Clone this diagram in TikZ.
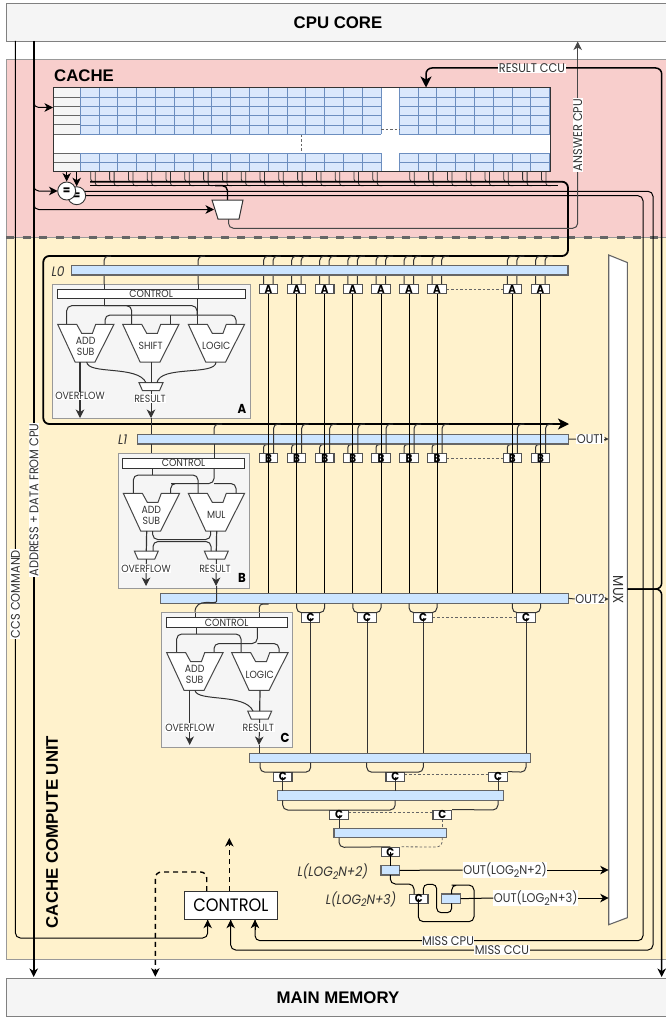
\documentclass[tikz,border=0pt]{standalone}
\usepackage{fontspec}
\setmainfont{Liberation Sans}
\newfontfamily\lab[FakeStretch=0.9]{Poppins}
\usetikzlibrary{arrows.meta}
\definecolor{pinkbg}{HTML}{F8CECC}
\definecolor{yellowbg}{HTML}{FFF2CC}
\definecolor{lightgr}{HTML}{F5F5F5}
\definecolor{barblue}{HTML}{CCE5FF}
\definecolor{cellblue}{HTML}{DAE8FC}
\definecolor{celledge}{HTML}{6C8EBF}
\definecolor{dk}{HTML}{333333}
\definecolor{md}{HTML}{666666}
\newcommand{\rectn}[7]{\node[#6,inner sep=0pt,outer sep=0pt,minimum width={(#4)-(#2)},minimum height={(#5)-(#3)}] (#1) at ({((#2)+(#4))/2},{((#3)+(#5))/2}) {#7};}
\newcommand{\alu}[4]{%
 \draw[alupoly] (#2,#3) -- ++(19,0) -- ++(5,9) -- ++(10.7,0) -- ++(3.3,-9) -- ++(18.3,0) -- ++(-19,37.7) -- ++(-19.9,0) -- cycle;
 \node[labt,align=center,inner sep=0pt] (#1) at ({#2+28},{#3+22}) {#4};}
\newcommand{\muxs}[4]{%
 \draw[alupoly] ({#2-12},#3) -- ({#2+12},#3) -- ({#2+8.5},{#3+8}) -- ({#2-8.5},{#3+8}) -- cycle;
 \coordinate (#1t) at (#2,#3); \coordinate (#1b) at (#2,{#3+8});}
\newcommand{\sn}{\raisebox{-2.5pt}{\fontsize{10.5}{10.5}\selectfont 2}}
\tikzset{
 x=1pt,y=-1pt,
 wire/.style={draw=dk,line width=1pt,rounded corners=5pt},
 gwire/.style={draw=md!80!black,line width=1.2pt,rounded corners=5pt},
 thickw/.style={draw=black,line width=1.8pt,rounded corners=6pt},
 arr/.style={-{Stealth[length=8.5pt,width=8.5pt,inset=2.5pt]}},
 sarr/.style={-{Stealth[length=4pt,width=4pt,inset=1pt]}},
 bigarr/.style={-{Stealth[length=11pt,width=11pt,inset=3pt]}},
 dots/.style={draw=md,line width=0.8pt,dash pattern=on 2.5pt off 2pt},
 barn/.style={draw=md,line width=1.1pt,fill=barblue},
 panel/.style={draw=gray!80,line width=1pt,fill=lightgr},
 ctrl/.style={draw=dk,line width=0.9pt,fill=white},
 alupoly/.style={draw=md!70!black,line width=1pt,fill=white,line join=miter},
 bx/.style={draw=md!80!black,line width=1.1pt,fill=white,inner sep=0pt,minimum width=18.5pt,minimum height=9.3pt},
 bxl/.style={font=\lab\bfseries\fontsize{11.5}{11.5}\selectfont,inner sep=0pt,text=black},
 panl/.style={font=\lab\bfseries\fontsize{13}{13}\selectfont,inner sep=0pt,text=black},
 labt/.style={font=\lab\fontsize{10.4}{11.4}\selectfont,text=dk},
 wl/.style={labt,fill=white,inner sep=0.5pt},
 biglab/.style={font=\lab\fontsize{12.6}{13}\selectfont,text=dk,fill=white,inner sep=0.5pt},
 il/.style={font=\lab\itshape\fontsize{13.6}{14}\selectfont,text=dk},
 title/.style={font=\bfseries\fontsize{16.8}{17}\selectfont,text=black},
 dashw/.style={draw=black,line width=1.4pt,dash pattern=on 5pt off 4pt,rounded corners=6pt},
}
\begin{document}
\begin{tikzpicture}
\useasboundingbox (0,0) rectangle (665,1019);
% ---- regions
\rectn{cachereg}{6}{59.5}{667}{237}{fill=pinkbg,draw=gray!80,line width=0.8pt}{}
\rectn{ccureg}{6}{237}{667}{959.5}{fill=yellowbg,draw=gray!80,line width=0.8pt}{}
\draw[draw=md,line width=2.2pt,dash pattern=on 8pt off 8.5pt] (6,237.5) -- (665,237.5);
\rectn{cpu}{6}{3}{667}{41}{fill=lightgr,draw=gray,line width=0.9pt}{}
\rectn{mem}{6}{978}{667}{1016}{fill=lightgr,draw=gray,line width=0.9pt}{}
\node[title] (cputxt) at (338,23) {CPU CORE};
\node[title] (memtxt) at (338,998) {MAIN MEMORY};
\node[title] (cachetxt) at (84,76) {CACHE};
\node[title,rotate=90] (ccutxt) at (52,832) {CACHE COMPUTE UNIT};
% ---- cache array
\rectn{cache}{53}{87.7}{550}{171.7}{fill=white}{}
\rectn{tag}{53}{87.7}{80.3}{134.3}{fill=lightgr}{}
\rectn{tagb}{53}{153.3}{80.3}{171.7}{fill=lightgr}{}
\foreach \y in {97.3,106.7,115.7,125} \draw[md,line width=1pt] (53,\y) -- (80.3,\y);
\draw[md,line width=1pt] (53,134.3) -- (80.3,134.3) (53,153.3) -- (80.3,153.3) (53,162.3) -- (80.3,162.3);
\foreach \xa/\xb/\n in {80.3/381/16,399.3/550/8}{
  \fill[cellblue] (\xa,87.7) rectangle (\xb,134.3);
  \fill[cellblue] (\xa,153.3) rectangle (\xb,171.7);
  \foreach \y in {97.3,106.7,115.7,125} \draw[celledge,line width=0.9pt] (\xa,\y) -- (\xb,\y);
  \draw[celledge,line width=0.9pt] (\xa,162.3) -- (\xb,162.3) (\xa,153.3) -- (\xb,153.3) (\xa,134.3) -- (\xb,134.3);
  \foreach \k in {0,...,\n}{
    \pgfmathsetmacro{\cx}{\xa+\k*18.8}
    \draw[celledge,line width=0.9pt] (\cx,87.7) -- (\cx,134.3) (\cx,153.3) -- (\cx,171.7);
  }
}
\draw[dk,line width=1pt] (cache.north west) rectangle (cache.south east);
\draw[dots] (381,129.5) -- (399.3,129.5);
\draw[dots] (301.5,135) -- (301.5,153);
% taps under the cache
\foreach \k in {0,...,15}{
  \pgfmathsetmacro{\cx}{80.3+\k*18.8}
  \draw[wire,line width=0.8pt,rounded corners=2.5pt] (\cx+10.5,172) -- (\cx+10.5,181.7) -- (\cx+15,181.7);
  \draw[wire,line width=0.8pt,rounded corners=2.5pt] (\cx+15,172) -- (\cx+15,185.7) -- (\cx+20,185.7);
}
\foreach \k in {0,...,7}{
  \pgfmathsetmacro{\cx}{399.3+\k*18.8}
  \draw[wire,line width=0.8pt,rounded corners=2.5pt] (\cx+10.5,172) -- (\cx+10.5,181.7) -- (\cx+15,181.7);
  \draw[wire,line width=0.8pt,rounded corners=2.5pt] (\cx+15,172) -- (\cx+15,185.7) -- (\cx+20,185.7);
}
% ---- command + address lines
\draw[wire,draw=black] (15.4,41) -- (15.4,938) -- (207.7,938) -- (207.7,919.5);
\draw[thickw] (33.7,41) -- (33.7,970);
\draw[thickw,arr] (33.7,960) -- (33.7,977);
\draw[wire,arr,draw=black] (33.7,100) -- (33.7,107.5) -- (53,107.5);
\draw[wire,arr,draw=black] (33.7,184) -- (33.7,191) -- (57.5,191);
\draw[wire,arr,draw=black] (33.7,202) -- (33.7,209.5) -- (214,209.5);
% ---- comparators and answer mux
\draw[wire,draw=black] (76.7,195.7) -- (643,195.7) -- (643,940.7) -- (255,940.7) -- (255,920);
\draw[wire,arr,draw=black] (255,930) -- (255,919.7);
\draw[wire,draw=black] (66.7,191.3) -- (653,191.3) -- (653,950) -- (230.7,950) -- (230.7,920);
\draw[wire,arr,draw=black] (230.7,930) -- (230.7,919.7);
\draw[wire,arr,draw=black] (207.7,930) -- (207.7,919.7);
\draw[wire,draw=black] (90,185.7) -- (558,185.7);
\draw[draw=black,line width=1.8pt,rounded corners=6pt] (90,181.7) -- (568,181.7) -- (568,256) -- (43.3,256) -- (43.3,424) -- (560,424);
\draw[black,line width=1.8pt,bigarr] (548,424) -- (569,424);
\draw[wire,draw=black,line width=1.4pt] (215,185.7) -- (227.5,185.7) -- (227.5,200);
\draw[alupoly,draw=dk] (212,200) -- (243,200) -- (239,219) -- (218,219) -- cycle;
\coordinate (ansout) at (228.5,219);
\draw[wire,draw=md!70!black,line width=1pt] (ansout) -- (228.5,228.3) -- (577.7,228.3) -- (577.7,100);
\draw[draw=md!70!black,line width=1pt,arr] (577.7,100) -- (577.7,41.5);
\node[draw=dk,fill=white,circle,minimum size=18pt,inner sep=0pt,line width=0.9pt,font=\lab\bfseries\fontsize{12}{12}\selectfont] (eqb) at (76.7,195.7) {=};
\node[draw=dk,fill=white,circle,minimum size=18pt,inner sep=0pt,line width=0.9pt,font=\lab\bfseries\fontsize{12}{12}\selectfont] (eqa) at (66.7,191) {=};
\draw[draw=black,line width=0.9pt,arr] (66.7,172) -- (eqa.north);
\draw[draw=black,line width=0.9pt,arr] (76.7,172) -- (eqb.north);
% ---- mux
\draw[draw=md,line width=1.1pt,fill=white] (608.7,255) -- (627.3,262.5) -- (627.3,917.7) -- (608.7,924.7) -- cycle;
\node[font=\lab\fontsize{14.5}{15}\selectfont,text=dk,rotate=-90] (muxt) at (618,590) {MUX};
% mux output
\draw[black,line width=1.5pt,rounded corners=6pt,bigarr] (627.5,589) -- (661.7,589) -- (661.7,68) -- (426,68) -- (426,87.5);
\draw[black,line width=1.5pt,rounded corners=6pt] (627.5,589) -- (661.7,589) -- (661.7,970);
\draw[black,line width=1.4pt,arr] (661.7,960) -- (661.7,977);
\node[biglab] (rccu) at (532,68.5) {RESULT CCU};
\node[biglab,rotate=90] (acpu) at (577.7,135) {ANSWER CPU};
\node[biglab,rotate=90] (ccscmd) at (15.4,594) {CCS COMMAND};
\node[biglab,rotate=90] (addr) at (33.9,500) {ADDRESS + DATA FROM CPU};
\node[biglab] (mcpu) at (448,940.7) {MISS CPU};
\node[biglab] (mccu) at (502,950) {MISS CCU};
% ---- L0 stage
\foreach \i/\c in {1/268.5,2/296.6,3/324.7,4/352.8,5/381,6/409,7/437,8/512.3,9/540.5}{
  \draw[wire,rounded corners=4.5pt] (\c+3,256) -- (\c-5,256) -- (\c-5,285);
  \draw[wire,rounded corners=4.5pt] (\c+12,256) -- (\c+4.5,256) -- (\c+4.5,285);
}
\draw[wire,rounded corners=4.5pt] (111,256) -- (104,256) -- (104,284.3);
\draw[wire,rounded corners=4.5pt] (205,256) -- (198,256) -- (198,284.3);
\rectn{L0}{71.7}{265.7}{568}{275}{barn}{}
\node[il] (L0t) at (58,272) {L0};
\foreach \i/\c in {1/268.5,2/296.6,3/324.7,4/352.8,5/381,6/409,7/437,8/512.3,9/540.5}{
  \node[bx] (A\i) at (\c,289.2) {};
}
\draw[dots] (A7.east) -- (A8.west);
% ---- L1 stage
\foreach \i/\c in {1/268.5,2/296.6,3/324.7,4/352.8,5/381,6/409,7/437,8/512.3,9/540.5}{
  \draw[wire,rounded corners=3pt] (\c-5,453.5) -- (\c-5,444.5) -- (\c-1,444.5);
}
\rectn{L1}{137.3}{434.3}{568.5}{444}{barn}{}
\node[il] (L1t) at (122.7,440) {L1};
\foreach \i/\c in {1/268.5,2/296.6,3/324.7,4/352.8,5/381,6/409,7/437,8/512.3,9/540.5}{
  \node[bx] (B\i) at (\c,458) {};
  \draw[wire,rounded corners=4.5pt] (\c+12,424) -- (\c+5,424) -- (\c+5,453.5);
  \draw[wire,draw=black] (A\i.south) -- (\c,594);
  \node[bxl] (Al\i) at (A\i) {A};
  \node[bxl] (Bl\i) at (B\i) {B};
}
\draw[dots] (B7.east) -- (B8.west);
% L1 out
\node[biglab] (out1) at (590,439) {OUT1};
\draw[wire] (L1.east) -- (out1.west);
\draw[draw=dk,line width=0.9pt,sarr] (out1.east) -- (608.5,439);
% ---- panel A
\rectn{panelA}{52.7}{284.3}{250}{418.3}{panel}{}
\rectn{ctlA}{57.3}{289.3}{245}{298.7}{ctrl}{}
\node[labt] (ctlAt) at (ctlA) {CONTROL};
\draw[wire] (104,284.3) -- (104,289.3);
\draw[wire] (198,284.3) -- (198,289.3);
\draw[wire] (104,298.7) -- (104,305.7);
\draw[wire] (66.7,324.3) -- (66.7,305.7) -- (197,305.7) -- (197,315);
\draw[wire] (104,305.7) -- (131.7,305.7) -- (131.7,324.3);
\draw[wire] (197,298.7) -- (197,324.3);
\draw[wire] (105,324.3) -- (105,315) -- (236,315) -- (236,324.3);
\draw[wire] (170,315) -- (170,324.3);
\alu{a1}{57.7}{324.3}{ADD\\SUB}
\alu{a2}{122.7}{324.3}{SHIFT}
\alu{a3}{188.3}{324.3}{LOGIC}
\muxs{ma}{151}{382.7}{}
\draw[wire] (86.7,362) .. controls (88,375) and (138,365) .. (146,382.7);
\draw[wire] (216,362) .. controls (216,376) and (160,365) .. (157,382.7);
\draw[wire] (151,362) -- (mat);
\draw[gwire,arr,draw=dk] (80,362) -- (80,418);
\draw[wire,arr] (mab) -- (151,418);
\node[wl] (ovA) at (80,396) {OVERFLOW};
\node[wl] (reA) at (150,398.5) {RESULT};
\node[panl] (pa) at (242,409) {A};
\draw[wire] (151,418) -- (151,434.3);
% ---- panel B
\draw[wire,rounded corners=4.5pt] (222,424) -- (214,424) -- (214,434.3);
\rectn{panelB}{118.3}{453.3}{249.3}{588.3}{panel}{}
\rectn{ctlB}{122.7}{458.3}{244.3}{468.3}{ctrl}{}
\node[labt] (ctlBt) at (ctlB) {CONTROL};
\draw[wire] (151,444) -- (151,453.3);
\draw[wire] (214,444) -- (214,458.3);
\draw[wire] (152.7,468.3) -- (152.7,475);
\draw[wire] (133.3,493.3) -- (133.3,475) -- (198,475) -- (198,493.3);
\draw[wire] (214,468.3) -- (214,483.5) -- (176,483.5) -- (170.7,483.5) -- (170.7,493.3);
\draw[wire] (214,483.5) -- (236,483.5) -- (236,493.3);
\alu{b1}{123.3}{493.3}{ADD\\SUB}
\alu{b2}{188.3}{493.3}{MUL}
\muxs{mb1}{146.3}{551}{}
\muxs{mb2}{216.3}{551}{}
\draw[wire] (152.7,531) -- (152.7,539.5) -- (210.7,539.5) -- (210.7,531);
\draw[wire] (153,551) -- (153,541.5) -- (211,541.5) -- (211,551);
\draw[gwire,draw=dk] (146.7,531) -- (mb1t);
\draw[gwire,draw=dk] (216.7,531) -- (mb2t);
\draw[wire,arr] (mb1b) -- (146,586);
\draw[wire,arr] (mb2b) -- (216,586);
\node[wl] (ovB) at (146,568.5) {OVERFLOW};
\node[wl] (reB) at (215,568.5) {RESULT};
\node[panl] (pb) at (242,578) {B};
% ---- L2 stage
\rectn{L2}{160.7}{593.3}{568.5}{603.3}{barn}{}
\node[biglab] (out2) at (590,599) {OUT2};
\draw[wire] (L2.east) -- (out2.west);
\draw[draw=dk,line width=0.9pt,sarr] (out2.east) -- (608.5,599);
\draw[wire] (216.7,586) -- (216.7,596) .. controls (216.7,606) and (195,596) .. (195,612.7);
\draw[wire,rounded corners=3.5pt] (268.5,604) -- (259.3,604) -- (259.3,612.7);
\foreach \i/\c/\l/\r in {1/310.5/296.6/324.7,2/367/352.8/381,3/423/409/437,4/526/512.3/540.5}{
  \node[bx] (Ca\i) at (\c,617.5) {};
  \draw[wire,rounded corners=5pt] (\l,603.3) -- (\l,612.7) -- (\r,612.7) -- (\r,603.3);
}
\draw[dots] (Ca3.east) -- (Ca4.west);
% ---- panel C
\rectn{panelC}{161.7}{612.7}{292.7}{747.3}{panel}{}
\rectn{ctlC}{166}{617.7}{287.3}{627.3}{ctrl}{}
\node[labt] (ctlCt) at (ctlC) {CONTROL};
\draw[wire] (195,612.7) -- (195,617.7);
\draw[wire] (259.3,612.7) -- (259.3,617.7);
\draw[wire] (196,627.3) -- (196,634);
\draw[wire] (176.7,652.7) -- (176.7,634) -- (241,634) -- (241,652.7);
\draw[wire] (257.3,627.3) -- (257.3,643.5) -- (214,643.5) -- (214,652.7);
\draw[wire] (257.3,643.5) -- (279,643.5) -- (279,652.7);
\alu{c1}{166.7}{652.7}{ADD\\SUB}
\alu{c2}{231.7}{652.7}{LOGIC}
\muxs{mc}{259.7}{711}{}
\draw[wire] (195,690.4) .. controls (197,702) and (245,693) .. (253,711);
\draw[gwire,draw=dk] (260,690.4) -- (mct);
\draw[wire,arr] (189.7,690.4) -- (189.7,745);
\draw[wire,arr] (mcb) -- (259,745);
\node[wl] (ovC) at (190,727.5) {OVERFLOW};
\node[wl] (reC) at (258.3,727.5) {RESULT};
\node[panl] (pc) at (285,738) {C};
\draw[wire] (259.8,745) -- (259.8,753.3);
% ---- reducing tree
\rectn{L3}{249.3}{753.3}{530.5}{762.7}{barn}{}
\foreach \i in {1,...,4}{
  \draw[wire] (Ca\i.center) -- (Ca\i.center |- L3.north);
  \node[bxl] (Cal\i) at (Ca\i) {C};
}
\foreach \n/\c in {a/282.7,b/395.2,c/498}{ \node[bx] (Cb\n) at (\c,776.8) {}; }
\draw[wire] (260,762.7) -- (260,772.2) -- (310.7,772.2) -- (310.7,762.7);
\draw[wire] (366.7,762.7) -- (366.7,772.2) -- (423.3,772.2) -- (423.3,762.7);
\draw[wire] (526,762.7) -- (526,772.2) -- (Cbc.north east);
\draw[dots] (404.7,774.4) -- (488.7,774.4);
\rectn{L4}{277.7}{790.7}{503.3}{800.3}{barn}{}
\foreach \n in {a,b,c}{
  \draw[wire] (Cb\n.center) -- (Cb\n.center |- L4.north);
  \node[bxl] (Cbl\n) at (Cb\n) {C};
}
\node[bx] (Cc1) at (339,814.7) {};
\node[bx] (Cc2) at (442.2,814.7) {};
\draw[wire] (282.7,800.3) -- (282.7,810) -- (395.2,810) -- (395.2,800.3);
\draw[wire] (498,800.3) -- (498,810) -- (Cc2.north east);
\draw[dots] (348.5,812.3) -- (432.9,812.3);
\rectn{L5}{334}{828.3}{446.7}{837.7}{barn}{}
\draw[wire] (Cc1.center) -- (Cc1.center |- L5.north);
\draw[dots] (Cc2.south) -- (Cc2.south |- L5.north);
\node[bxl] (Ccl1) at (Cc1) {C};
\node[bxl] (Ccl2) at (Cc2) {C};
\node[bx] (Cd) at (390.3,852) {};
\draw[wire] (339,837.7) -- (339,847.3) -- (Cd.north);
\draw[dots,rounded corners=5pt] (442.2,837.7) -- (442.2,847) -- (Cd.north east);
\rectn{Lp}{381}{865.7}{399.7}{875}{barn}{}
\draw[wire,draw=black] (Cd.center) -- (Lp.north -| Cd.center);
\node[bxl] (Cdl) at (Cd) {C};
\node[il] (Lpt) at (332.7,871.7) {L(LOG\sn N+2)};
\node[biglab] (outp) at (505,870) {OUT(LOG\sn N+2)};
\draw[wire,draw=black] (Lp.east) -- (outp.west);
\draw[draw=black,line width=0.9pt,arr] (outp.east) -- (608.7,870);
% last stage
\node[bx] (Ce) at (418.7,898.7) {};
\rectn{Lq}{441.7}{894}{460.7}{903.3}{barn}{}
\draw[wire,draw=black] (390.3,875) -- (390.3,884) -- (414,884) -- (414,894);
\draw[wire,draw=black] (418.3,898.7) -- (418.3,921.7) -- (474,921.7) -- (474,885) -- (456.7,885) -- (451.7,885) -- (451.7,894);
\draw[wire,draw=black,rounded corners=4.5pt] (423.3,894) -- (423.3,884.3) -- (436.7,884.3) -- (436.7,912.7) -- (451.7,912.7) -- (451.7,903.3);
\node[bxl] (Cel) at (Ce) {C};
\node[il] (Lqt) at (361,899) {L(LOG\sn N+3)};
\node[biglab] (outq) at (535.7,898) {OUT(LOG\sn N+3)};
\draw[wire,draw=black] (Lq.east) -- (outq.west);
\draw[draw=black,line width=0.9pt,arr] (outq.east) -- (608.7,898);
% ---- main control
\rectn{mainctl}{184}{891}{277.7}{919.3}{draw=dk,line width=1pt,fill=white,font=\lab\fontsize{18}{18}\selectfont}{CONTROL}
\draw[draw=black,line width=1.4pt,dash pattern=on 5pt off 4pt,arr] (229.3,891) -- (229.3,838);
\draw[dashw,arr] (206.7,891) -- (206.7,872) -- (155.3,872) -- (155.3,976.7);
\end{tikzpicture}
\end{document}
